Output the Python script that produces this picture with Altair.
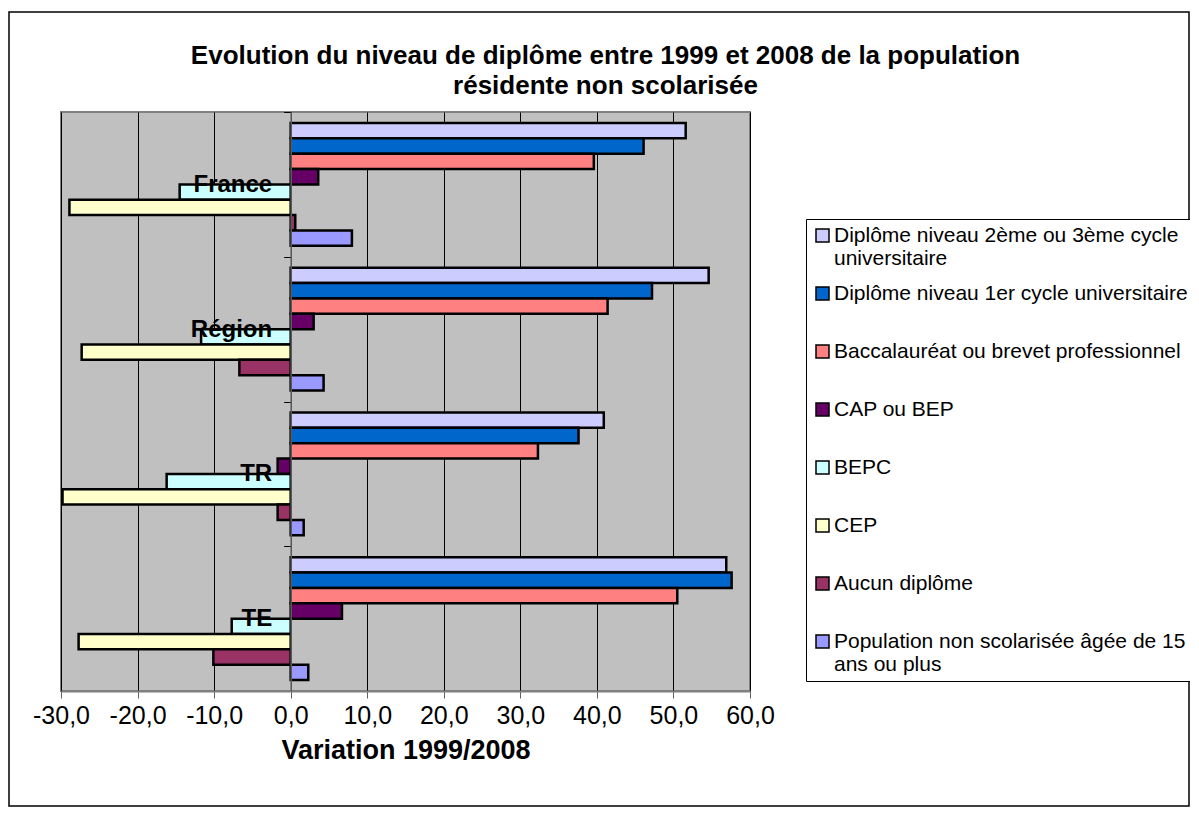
import altair as alt
import pandas as pd

categories = ["France", "Région", "TR", "TE"]
series = [
    "Diplôme niveau 2ème ou 3ème cycle universitaire",
    "Diplôme niveau 1er cycle universitaire",
    "Baccalauréat ou brevet professionnel",
    "CAP ou BEP",
    "BEPC",
    "CEP",
    "Aucun diplôme",
    "Population non scolarisée âgée de 15 ans ou plus",
]
colors = ["#CCCCFF", "#0066CC", "#FF8080", "#660066", "#CCFFFF", "#FFFFCC", "#993366", "#9999FF"]

france = [51.6, 46.1, 39.6, 3.6, -14.5, -28.9, 0.6, 8.0]
region = [54.6, 47.2, 41.4, 3.0, -11.7, -27.3, -6.7, 4.3]
tr = [40.9, 37.6, 32.3, -1.7, -16.2, -29.8, -1.7, 1.7]
te = [56.9, 57.6, 50.5, 6.7, -7.7, -27.7, -10.1, 2.3]
x_ticks = [-30, -20, -10, 0, 10, 20, 30, 40, 50, 60]

rows = []
for cat, vals in zip(categories, [france, region, tr, te]):
    for s, v in zip(series, vals):
        rows.append({"cat": cat, "series": s, "value": v})
df = pd.DataFrame(rows)

label_expr = (
    "datum.label == 'Diplôme niveau 2ème ou 3ème cycle universitaire' ? "
    "['Diplôme niveau 2ème ou 3ème cycle', 'universitaire'] : "
    "datum.label == 'Population non scolarisée âgée de 15 ans ou plus' ? "
    "['Population non scolarisée âgée de 15', 'ans ou plus'] : datum.label"
)

font = "Liberation Sans, Arial"

bars = alt.Chart(df).mark_bar(stroke="black", strokeWidth=2.5, clip=False).encode(
    x=alt.X(
        "value:Q",
        scale=alt.Scale(domain=[-30, 60], nice=False),
        axis=alt.Axis(
            values=x_ticks,
            title="Variation 1999/2008",
            labelExpr="replace(replace(format(datum.value, '.1f'), '.', ','), '\u2212', '-')",
            labelFont=font,
            labelFontSize=25,
            labelColor="black",
            labelPadding=5,
            labelOverlap=False,
            labelFlush=False,
            tickSize=7,
            tickColor="#606060",
            domainColor="#808080",
            domainWidth=2,
            grid=True,
            gridColor="black",
            gridWidth=1,
            titleFont=font,
            titleFontSize=27,
            titleFontWeight="bold",
            titleColor="black",
            titlePadding=9,
            zindex=0,
        ),
    ),
    y=alt.Y(
        "cat:N",
        sort=categories,
        scale=alt.Scale(paddingInner=0.152, paddingOuter=0.076),
        axis=alt.Axis(
            title=None,
            offset=-229.67,
            bandPosition=0,
            tickOffset=-11,
            labelOffset=11,
            tickSize=7,
            tickColor="black",
            domainColor="#606060",
            domainWidth=1.5,
            labelFont=font,
            labelFontSize=24,
            labelFontWeight="bold",
            labelColor="black",
            labelPadding=12,
            grid=False,
            zindex=1,
        ),
    ),
    yOffset=alt.YOffset("series:N", sort=series, scale=alt.Scale(paddingInner=0, paddingOuter=0)),
    color=alt.Color(
        "series:N",
        sort=series,
        title=None,
        scale=alt.Scale(domain=series, range=colors),
        legend=alt.Legend(
            orient="none",
            legendX=745,
            legendY=107,
            direction="vertical",
            columns=1,
            gridAlign="all",
            fillColor="white",
            strokeColor="black",
            padding=6,
            symbolType="square",
            symbolSize=169,
            symbolStrokeColor="black",
            symbolStrokeWidth=1.5,
            labelFont=font,
            labelFontSize=21,
            labelColor="black",
            labelLimit=420,
            labelOffset=1,
            rowPadding=13,
            labelExpr=label_expr,
        ),
    ),
)

border = alt.Chart(pd.DataFrame({"k": [0]})).mark_rect(
    stroke="black", strokeWidth=1.5, fillOpacity=0, clip=False
).encode(
    x=alt.value(-52), x2=alt.value(1128), y=alt.value(-100), y2=alt.value(694)
)

chart = alt.layer(border, bars).properties(
    width=689,
    height=579,
    padding={"left": 53, "top": 104, "right": 440, "bottom": 120},
    autosize=alt.AutoSizeParams(type="none"),
    title=alt.TitleParams(
        text=[
            "Evolution du niveau de diplôme entre 1999 et 2008 de la population",
            "résidente non scolarisée",
        ],
        font=font,
        fontSize=26,
        fontWeight="bold",
        color="black",
        anchor="middle",
        frame="group",
        dx=200,
        dy=88,
        offset=0,
        lineHeight=30,
    ),
).configure(background="white").configure_view(
    fill="#C0C0C0", stroke="#808080", strokeWidth=2
)

chart.save("out.html", embed_options={"renderer": "svg", "actions": False})
